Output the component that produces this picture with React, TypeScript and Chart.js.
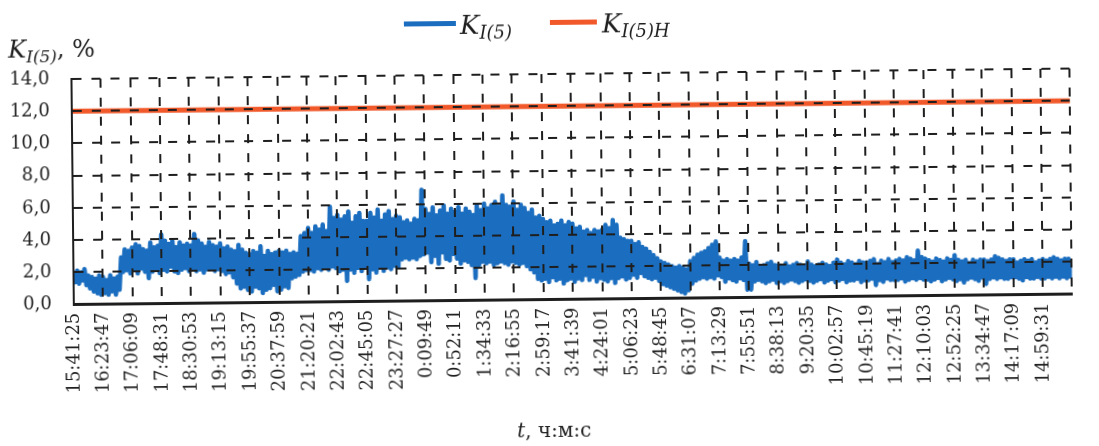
import React, { useEffect, useRef } from "react";
import { Chart, registerables } from "chart.js";

Chart.register(...registerables);

// ---- data ----
const X_LABELS: string[] = [
  "15:41:25", "16:23:47", "17:06:09", "17:48:31", "18:30:53", "19:13:15", "19:55:37",
  "20:37:59", "21:20:21", "22:02:43", "22:45:05", "23:27:27", "0:09:49", "0:52:11",
  "1:34:33", "2:16:55", "2:59:17", "3:41:39", "4:24:01", "5:06:23", "5:48:45",
  "6:31:07", "7:13:29", "7:55:51", "8:38:13", "9:20:35", "10:02:57", "10:45:19",
  "11:27:41", "12:10:03", "12:52:25", "13:34:47", "14:17:09", "14:59:31",
];
const LABEL_STEP_S = 2542; // 42:22 between tick labels
const SPAN_S = 86400; // 24 h shown
const SAMPLE_STEP_S = 158.875; // 16 readings per label interval

// K_I(5), % (upper/lower swings of the noisy trace)
const K_I5: number[] = [
  1.9, 1.4, 2.1, 1.3, 2.0, 1.5, 2.2, 1.2, 1.8, 1.0, 1.7, 0.8, 1.6, 0.7, 1.8, 0.6,
  1.7, 0.7, 1.5, 0.6, 1.8, 0.8, 1.6, 0.6, 1.7, 0.9, 2.9, 2.0, 3.4, 2.1, 3.3, 1.9,
  3.5, 2.1, 3.7, 1.9, 3.6, 2.2, 3.4, 2.0, 3.3, 1.6, 3.8, 2.0, 3.5, 2.2, 3.6, 1.9,
  4.3, 2.1, 3.9, 2.0, 3.7, 2.3, 3.9, 2.0, 3.5, 1.9, 3.8, 2.1, 3.6, 2.2, 3.7, 2.0,
  3.6, 2.2, 4.3, 2.0, 3.9, 2.1, 3.7, 1.9, 3.5, 2.1, 3.8, 2.2, 3.6, 2.0, 3.5, 2.1,
  3.7, 2.0, 3.4, 1.8, 3.5, 1.9, 3.3, 1.6, 3.2, 1.2, 3.6, 0.9, 3.3, 1.0, 3.1, 0.8,
  3.0, 0.7, 3.2, 1.0, 3.1, 0.9, 3.5, 0.6, 2.9, 0.8, 3.2, 0.9, 3.0, 1.1, 3.1, 0.7,
  3.2, 0.8, 3.1, 1.0, 3.2, 0.9, 3.0, 1.5, 3.1, 1.6, 3.0, 1.7, 4.1, 1.9, 4.3, 2.0,
  4.6, 2.0, 4.3, 1.9, 4.7, 2.1, 4.5, 2.0, 4.8, 2.2, 4.4, 2.0, 5.9, 2.2, 5.2, 2.1,
  5.4, 1.9, 5.1, 2.0, 5.3, 1.3, 5.6, 2.0, 4.9, 1.8, 5.3, 2.1, 5.5, 1.9, 5.0, 2.2,
  5.0, 1.4, 5.5, 2.0, 5.2, 1.8, 5.7, 2.2, 5.0, 1.9, 5.4, 2.1, 5.6, 2.0, 5.1, 2.2,
  5.3, 2.1, 5.2, 2.6, 4.9, 2.7, 5.0, 2.6, 4.8, 2.7, 5.1, 2.6, 5.0, 2.8, 6.9, 2.9,
  5.7, 3.0, 5.4, 2.4, 5.8, 2.8, 5.3, 2.3, 5.6, 3.0, 5.9, 2.6, 5.4, 2.5, 5.7, 2.9,
  5.5, 2.6, 5.8, 2.3, 5.4, 2.5, 5.7, 2.4, 5.5, 2.2, 5.3, 1.4, 5.9, 2.2, 5.6, 2.4,
  6.0, 2.3, 5.7, 2.4, 5.9, 2.2, 6.1, 2.3, 5.8, 2.4, 6.5, 2.3, 5.9, 2.2, 5.8, 2.4,
  6.1, 2.3, 5.6, 2.2, 5.9, 2.3, 5.7, 2.1, 5.4, 1.9, 5.6, 1.7, 5.1, 1.3, 5.2, 1.2,
  5.0, 1.3, 4.8, 1.1, 4.9, 1.4, 4.6, 1.2, 4.7, 1.3, 4.9, 1.0, 4.6, 1.2, 4.8, 1.3,
  4.7, 1.1, 4.4, 1.3, 4.5, 1.2, 4.2, 1.5, 4.3, 1.2, 4.1, 1.4, 4.3, 1.1, 4.2, 1.3,
  4.3, 1.2, 4.6, 1.1, 4.4, 1.3, 4.9, 1.0, 4.6, 1.3, 3.8, 1.4, 3.7, 1.2, 3.6, 1.3,
  3.6, 1.5, 3.4, 1.3, 3.5, 1.6, 3.2, 1.4, 3.1, 1.3, 2.9, 1.2, 2.7, 1.3, 2.5, 1.1,
  2.3, 0.9, 2.2, 0.8, 2.1, 0.7, 2.0, 0.6, 1.9, 0.5, 2.0, 0.4, 1.9, 0.3, 1.8, 0.5,
  2.3, 0.9, 2.5, 1.1, 2.7, 1.2, 2.8, 1.3, 2.9, 1.2, 3.1, 1.3, 3.3, 1.2, 3.5, 1.4,
  2.5, 1.3, 2.3, 1.0, 2.4, 1.2, 2.3, 1.1, 2.4, 1.0, 2.3, 1.2, 2.5, 1.1, 3.5, 0.5,
  2.1, 0.5, 2.0, 1.0, 2.2, 1.1, 1.9, 1.0, 2.0, 0.9, 2.1, 1.0, 2.2, 1.1, 2.0, 0.9,
  2.0, 1.0, 1.9, 0.9, 2.1, 1.0, 1.9, 1.1, 2.0, 1.0, 2.1, 0.9, 2.0, 1.0, 1.9, 1.1,
  2.2, 1.0, 2.0, 0.9, 1.9, 1.0, 2.0, 1.1, 2.1, 0.9, 2.0, 1.0, 1.9, 1.1, 2.1, 0.9,
  2.3, 1.0, 2.1, 1.1, 2.0, 0.9, 2.2, 1.0, 2.1, 1.0, 2.0, 1.1, 2.2, 0.9, 2.1, 1.0,
  2.1, 1.0, 2.2, 1.1, 2.3, 0.7, 2.0, 1.0, 2.2, 0.9, 2.1, 1.1, 2.3, 1.0, 2.1, 1.0,
  2.2, 1.0, 2.3, 1.1, 2.2, 0.9, 2.4, 1.0, 2.3, 1.1, 2.2, 1.0, 2.8, 1.1, 2.4, 1.0,
  2.3, 1.0, 2.2, 0.9, 2.1, 1.0, 2.3, 1.1, 2.2, 0.9, 2.1, 1.0, 2.3, 1.1, 2.2, 1.0,
  2.5, 0.9, 2.2, 1.0, 2.1, 0.8, 2.2, 1.0, 2.0, 1.1, 2.2, 1.0, 2.1, 0.9, 2.2, 1.1,
  2.2, 0.7, 2.1, 1.0, 2.2, 1.1, 2.4, 1.0, 2.3, 1.1, 2.2, 1.0, 2.1, 1.0, 2.2, 1.1,
  2.2, 1.1, 2.0, 1.0, 2.1, 0.9, 2.2, 1.1, 2.1, 1.0, 2.2, 1.0, 2.0, 1.1, 2.1, 1.0,
  2.2, 1.0, 2.1, 1.1, 2.2, 1.0, 2.3, 1.1, 2.2, 1.0, 2.1, 1.1, 2.2, 1.0, 2.2, 1.1,
  2.1,
];

// K_I(5)H, % — normative limit
const K_I5H_TIMES: number[] = [0, SPAN_S];
const K_I5H_VALUES: number[] = [12.0, 12.0];

const Y_MIN = 0;
const Y_MAX = 14;
const Y_STEP = 2;

// ---- style ----
const BLUE = "#1a6dbf";
const ORANGE = "#f1592a";
const INK = "#1e1e1e";
const FONT = "'DejaVu Serif', serif";

export default function App() {
  const ref = useRef<HTMLCanvasElement | null>(null);

  useEffect(() => {
    if (!ref.current) return;
    const gridCommon = {
      color: INK,
      lineWidth: 2,
      drawTicks: false,
      z: 1,
    };
    const chart = new Chart(ref.current, {
      type: "line",
      data: {
        datasets: [
          {
            label: "KI(5)",
            data: K_I5.map((v, i) => ({ x: i * SAMPLE_STEP_S, y: v })),
            borderColor: BLUE,
            backgroundColor: BLUE,
            borderWidth: 4.5,
            borderJoinStyle: "round",
            pointRadius: 0,
            tension: 0,
          },
          {
            label: "KI(5)H",
            data: K_I5H_TIMES.map((t, i) => ({ x: t, y: K_I5H_VALUES[i] })),
            borderColor: ORANGE,
            backgroundColor: ORANGE,
            borderWidth: 5,
            pointRadius: 0,
            tension: 0,
          },
        ],
      },
      options: {
        responsive: false,
        animation: false,
        layout: { padding: { top: 74, left: 0, right: 0, bottom: 0 } },
        plugins: { legend: { display: false }, tooltip: { enabled: false } },
        scales: {
          x: {
            type: "linear",
            min: 0,
            max: SPAN_S,
            ticks: {
              stepSize: LABEL_STEP_S,
              includeBounds: false,
              autoSkip: false,
              minRotation: 90,
              maxRotation: 90,
              padding: 8,
              color: INK,
              font: { family: FONT, size: 18 },
              callback: (_v: any, i: number) => X_LABELS[i] ?? "",
            },
            grid: gridCommon,
            border: { display: true, color: INK, width: 3, dash: [9, 10], z: 1 },
            afterFit: (s: any) => {
              s.height = 146.3;
            },
          },
          y: {
            min: Y_MIN,
            max: Y_MAX,
            ticks: {
              stepSize: Y_STEP,
              padding: 22,
              color: INK,
              font: { family: FONT, size: 18 },
              callback: (v: any) => Number(v).toFixed(1).replace(".", ","),
            },
            grid: gridCommon,
            border: { display: true, color: INK, width: 2, dash: [9, 10], z: 1 },
            afterFit: (s: any) => {
              s.width = 73;
            },
          },
        },
      },
    } as any);
    return () => chart.destroy();
  }, []);

  const sub = (text: string, size: number, drop: number) => (
    <span style={{ fontSize: size, position: "relative", top: drop, fontStyle: "italic" }}>{text}</span>
  );

  return (
    <div style={{ position: "fixed", left: 0, top: 0, width: 1099, height: 446, overflow: "hidden", background: "#fff" }}>
      <div
        style={{
          position: "absolute",
          left: 0,
          top: 0,
          width: 1101,
          height: 446,
          transform: "rotate(-0.6deg)",
          transformOrigin: "549.5px 223px",
          fontFamily: FONT,
          color: INK,
        }}
      >
        <canvas ref={ref} width={1101} height={446} style={{ position: "absolute", left: 0, top: 0 }} />
        {/* y axis title */}
        <div style={{ position: "absolute", left: 10, top: 32, fontSize: 24, lineHeight: "24px", whiteSpace: "nowrap" }}>
          <span style={{ fontStyle: "italic" }}>K</span>
          {sub("I(5)", 17, 5)}
          <span>, %</span>
        </div>
        {/* legend */}
        <div style={{ position: "absolute", left: 406, top: 20, width: 52, height: 5, background: BLUE }} />
        <div style={{ position: "absolute", left: 462, top: 11, fontSize: 26, lineHeight: "26px", whiteSpace: "nowrap" }}>
          <span style={{ fontStyle: "italic" }}>K</span>
          {sub("I(5)", 18, 5)}
        </div>
        <div style={{ position: "absolute", left: 552, top: 20, width: 47, height: 5, background: ORANGE }} />
        <div style={{ position: "absolute", left: 604, top: 11, fontSize: 26, lineHeight: "26px", whiteSpace: "nowrap" }}>
          <span style={{ fontStyle: "italic" }}>K</span>
          {sub("I(5)H", 18, 5)}
        </div>
        {/* x axis title */}
        <div style={{ position: "absolute", left: 515, top: 419, fontSize: 20, lineHeight: "22px", whiteSpace: "nowrap" }}>
          <span style={{ fontStyle: "italic" }}>t</span>
          <span>, ч:м:с</span>
        </div>
      </div>
    </div>
  );
}
